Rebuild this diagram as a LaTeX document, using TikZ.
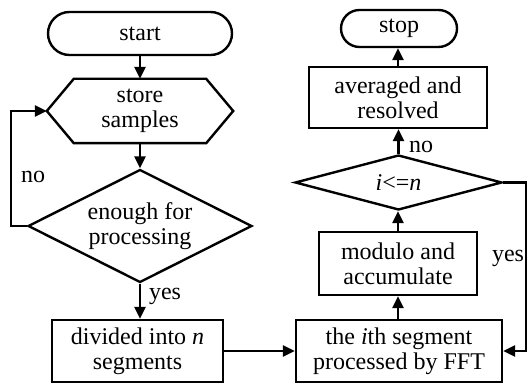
\documentclass[tikz,border=0pt]{standalone}
\usepackage{fontspec}
\setmainfont{Liberation Serif}
\usetikzlibrary{shapes.geometric,arrows.meta,calc}
\begin{document}
\begin{tikzpicture}[x=0.5pt,y=-0.5pt,
  line width=1.2pt,
  font=\fontsize{12}{12.5}\selectfont,
  every node/.style={align=center,inner sep=0pt},
  flow/.style={-{Triangle[length=6pt,width=5.5pt]}},
  term/.style={draw,rectangle,rounded corners=#1},
  proc/.style={draw,rectangle},
  decide/.style={draw,diamond},
  lbl/.style={font=\fontsize{12}{12.5}\selectfont}
]
\useasboundingbox (0,0) rectangle (528,383);

% left column
\node[term=10.75pt,minimum width=92pt,minimum height=21.5pt] (start) at (140,33.5) {start};
\node[minimum width=65pt,minimum height=31pt] (store) at (140,111) {store\\samples};
\coordinate (storeW) at ($(store.west)+(-27,0)$);
\coordinate (storeE) at ($(store.east)+(27,0)$);
\draw (storeW) -- (store.north west) -- (store.north east) -- (storeE)
      -- (store.south east) -- (store.south west) -- cycle;
% decision shapes are sized by hand; their text sits on top
\node[decide,minimum width=112pt,minimum height=56.5pt] (check) at (140,226) {};
\node (checkT) at (check) {enough for\\processing};
\node[proc,minimum width=85.5pt,minimum height=31pt] (divide) at (137.5,351) {divided into \textit{n}\\segments};

% right column
\node[proc,minimum width=103pt,minimum height=31pt] (fft) at (399,351) {the \textit{i}th segment\\processed by FFT};
\node[proc,minimum width=79pt,minimum height=31.5pt] (modulo) at (398,263.5) {modulo and\\accumulate};
\node[decide,minimum width=103.5pt,minimum height=27.5pt] (loop) at (398.5,182.5) {};
\node (loopT) at (loop) {\textit{i}<=\textit{n}};
\node[proc,minimum width=89pt,minimum height=30.5pt] (avg) at (398,97.5) {averaged and\\resolved};
\node[term=9.25pt,minimum width=58pt,minimum height=18.5pt] (stop) at (399,28.5) {stop};

% connectors
\draw[flow] (start) -- (store.north);
\draw[flow] (store.south) -- (check.north);
\draw[flow] (check.south) -- (check.south |- divide.north);
\coordinate (noL) at (11,226);
\draw[flow] (check.west) -- (noL) |- (storeW);
\draw[flow] (divide.east) -- (fft.west);
\draw[flow] (fft.north -| modulo.south) -- (modulo.south);
\draw[flow] (modulo.north) -- (modulo.north |- loop.south);
\draw[flow] (loop.north) -- (loop.north |- avg.south);
\draw[flow] (avg.north) -- (avg.north |- stop.south);
\coordinate (yesR) at (526,182.5);
\draw[flow] (loop.east) -- (yesR) |- (fft.east);

% branch labels
\node[lbl] (lno) at (33,177) {no};
\node[lbl] (lyes) at (165,296) {yes};
\node[lbl] (rno) at (421,147) {no};
\node[lbl] (ryes) at (508,258) {yes};
\end{tikzpicture}
\end{document}
